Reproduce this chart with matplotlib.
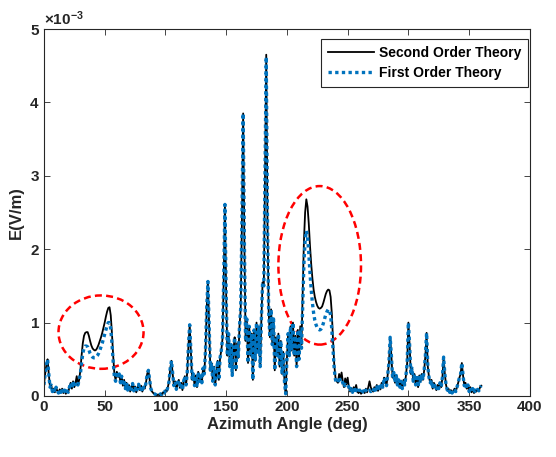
import matplotlib
matplotlib.use('Agg')
import matplotlib.pyplot as plt
from matplotlib.patches import Ellipse
from matplotlib.ticker import ScalarFormatter, MultipleLocator
import numpy as np

plt.rcParams['font.family'] = ['Liberation Sans', 'DejaVu Sans']
plt.rcParams['font.weight'] = 'bold'
plt.rcParams['mathtext.fontset'] = 'custom'
plt.rcParams['mathtext.rm'] = 'Liberation Sans:bold'
plt.rcParams['mathtext.default'] = 'rm'

# azimuth angle (deg), one sample per degree
angle = list(range(0, 361))

# field strength, in units of 1e-3 V/m
second_order = [
    0.15, 0.30, 0.42, 0.50, 0.30, 0.12, 0.15, 0.06, 0.10, 0.05,
    0.12, 0.07, 0.04, 0.09, 0.05, 0.10, 0.04, 0.08, 0.03, 0.07,
    0.05, 0.12, 0.18, 0.10, 0.20, 0.12, 0.18, 0.27, 0.15, 0.22,
    0.35, 0.55, 0.72, 0.82, 0.86, 0.87, 0.87, 0.82, 0.75, 0.69,
    0.65, 0.63, 0.62, 0.63, 0.66, 0.70, 0.75, 0.80, 0.86, 0.93,
    1.00, 1.08, 1.15, 1.20, 1.21, 1.10, 0.85, 0.55, 0.30, 0.22,
    0.33, 0.26, 0.30, 0.18, 0.27, 0.14, 0.22, 0.10, 0.18, 0.08,
    0.15, 0.06, 0.12, 0.17, 0.07, 0.13, 0.05, 0.11, 0.16, 0.08,
    0.14, 0.06, 0.12, 0.10, 0.18, 0.30, 0.35, 0.22, 0.10, 0.06,
    0.04, 0.03, 0.02, 0.01, 0.02, 0.01, 0.03, 0.02, 0.05, 0.04,
    0.08, 0.06, 0.12, 0.20, 0.38, 0.48, 0.30, 0.14, 0.20, 0.09,
    0.16, 0.22, 0.11, 0.18, 0.08, 0.20, 0.27, 0.15, 0.33, 0.70,
    0.97, 0.60, 0.22, 0.30, 0.14, 0.28, 0.12, 0.33, 0.20, 0.27,
    0.18, 0.38, 0.30, 0.62, 1.20, 1.56, 0.95, 0.35, 0.45, 0.20,
    0.40, 0.15, 0.32, 0.48, 0.22, 0.52, 0.62, 0.78, 1.60, 2.61,
    1.40, 0.55, 0.85, 0.40, 0.70, 0.28, 0.62, 0.80, 0.35, 0.72,
    0.52, 0.95, 1.20, 2.40, 3.85, 2.10, 0.75, 1.05, 0.45, 0.95,
    0.55, 0.85, 0.22, 0.90, 0.48, 1.00, 0.60, 0.95, 0.40, 1.05,
    1.55, 1.50, 3.00, 4.65, 2.40, 1.15, 0.80, 1.18, 0.70, 1.05,
    0.35, 0.80, 0.55, 0.85, 0.40, 0.75, 0.30, 0.60, 0.20, 0.03,
    0.50, 0.85, 0.55, 0.95, 0.62, 1.00, 0.55, 0.82, 0.40, 0.90,
    0.50, 0.95, 0.70, 1.40, 2.10, 2.50, 2.68, 2.58, 2.35, 2.05,
    1.80, 1.60, 1.45, 1.35, 1.28, 1.23, 1.20, 1.19, 1.20, 1.22,
    1.27, 1.33, 1.39, 1.43, 1.45, 1.44, 1.35, 1.12, 0.75, 0.42,
    0.25, 0.20, 0.18, 0.30, 0.22, 0.32, 0.20, 0.12, 0.24, 0.16,
    0.25, 0.12, 0.06, 0.10, 0.05, 0.12, 0.08, 0.15, 0.06, 0.04,
    0.08, 0.03, 0.05, 0.07, 0.04, 0.10, 0.05, 0.12, 0.20, 0.12,
    0.08, 0.06, 0.12, 0.08, 0.15, 0.07, 0.12, 0.09, 0.18, 0.12,
    0.25, 0.20, 0.14, 0.30, 0.45, 0.80, 0.55, 0.25, 0.32, 0.18,
    0.28, 0.15, 0.22, 0.12, 0.20, 0.10, 0.22, 0.15, 0.28, 0.45,
    1.00, 0.70, 0.30, 0.38, 0.20, 0.30, 0.15, 0.25, 0.12, 0.28,
    0.20, 0.30, 0.22, 0.35, 0.55, 0.86, 0.40, 0.25, 0.18, 0.22,
    0.10, 0.18, 0.12, 0.08, 0.15, 0.10, 0.18, 0.12, 0.25, 0.53,
    0.30, 0.15, 0.08, 0.10, 0.05, 0.08, 0.04, 0.07, 0.10, 0.06,
    0.12, 0.18, 0.25, 0.30, 0.45, 0.28, 0.14, 0.18, 0.10, 0.15,
    0.06, 0.12, 0.05, 0.10, 0.04, 0.08, 0.06, 0.09, 0.07, 0.12,
    0.14,
]

first_order = [
    0.15, 0.30, 0.42, 0.50, 0.30, 0.12, 0.15, 0.06, 0.10, 0.05,
    0.12, 0.07, 0.04, 0.09, 0.05, 0.10, 0.04, 0.08, 0.03, 0.07,
    0.05, 0.12, 0.18, 0.10, 0.20, 0.12, 0.18, 0.18, 0.15, 0.22,
    0.30, 0.45, 0.58, 0.65, 0.68, 0.68, 0.67, 0.63, 0.58, 0.55,
    0.53, 0.52, 0.52, 0.53, 0.55, 0.58, 0.62, 0.67, 0.72, 0.78,
    0.84, 0.90, 0.96, 1.00, 1.00, 0.92, 0.72, 0.47, 0.26, 0.20,
    0.33, 0.26, 0.30, 0.18, 0.27, 0.14, 0.22, 0.10, 0.18, 0.08,
    0.15, 0.06, 0.12, 0.17, 0.07, 0.13, 0.05, 0.11, 0.16, 0.08,
    0.14, 0.06, 0.12, 0.10, 0.18, 0.30, 0.35, 0.22, 0.10, 0.06,
    0.04, 0.03, 0.02, 0.01, 0.02, 0.01, 0.03, 0.02, 0.05, 0.04,
    0.08, 0.06, 0.12, 0.20, 0.38, 0.48, 0.30, 0.14, 0.20, 0.09,
    0.16, 0.22, 0.11, 0.18, 0.08, 0.20, 0.27, 0.15, 0.33, 0.70,
    0.97, 0.60, 0.22, 0.30, 0.14, 0.28, 0.12, 0.33, 0.20, 0.27,
    0.18, 0.38, 0.30, 0.62, 1.20, 1.56, 0.95, 0.35, 0.45, 0.20,
    0.40, 0.15, 0.32, 0.48, 0.22, 0.52, 0.62, 0.78, 1.60, 2.61,
    1.40, 0.55, 0.85, 0.40, 0.70, 0.28, 0.62, 0.80, 0.35, 0.72,
    0.52, 0.95, 1.20, 2.40, 3.85, 2.10, 0.75, 1.05, 0.45, 0.95,
    0.55, 0.85, 0.22, 0.90, 0.48, 1.00, 0.60, 0.95, 0.40, 1.05,
    1.55, 1.50, 3.00, 4.62, 2.40, 1.15, 0.80, 1.18, 0.70, 1.05,
    0.35, 0.80, 0.55, 0.85, 0.40, 0.75, 0.30, 0.60, 0.20, 0.03,
    0.50, 0.85, 0.55, 0.95, 0.62, 1.00, 0.55, 0.82, 0.40, 0.90,
    0.50, 0.90, 0.65, 1.25, 1.80, 2.12, 2.25, 2.17, 1.95, 1.68,
    1.45, 1.27, 1.13, 1.03, 0.97, 0.93, 0.91, 0.90, 0.91, 0.94,
    0.99, 1.05, 1.11, 1.15, 1.18, 1.17, 1.10, 0.90, 0.62, 0.36,
    0.22, 0.18, 0.18, 0.26, 0.20, 0.22, 0.18, 0.12, 0.16, 0.14,
    0.15, 0.12, 0.06, 0.10, 0.05, 0.12, 0.08, 0.12, 0.06, 0.04,
    0.08, 0.03, 0.05, 0.07, 0.04, 0.08, 0.05, 0.07, 0.08, 0.06,
    0.08, 0.06, 0.12, 0.08, 0.15, 0.07, 0.12, 0.09, 0.18, 0.12,
    0.25, 0.20, 0.14, 0.30, 0.45, 0.80, 0.55, 0.25, 0.32, 0.18,
    0.28, 0.15, 0.22, 0.12, 0.20, 0.10, 0.22, 0.15, 0.28, 0.45,
    1.00, 0.70, 0.30, 0.38, 0.20, 0.30, 0.15, 0.25, 0.12, 0.28,
    0.20, 0.30, 0.22, 0.35, 0.55, 0.86, 0.40, 0.25, 0.18, 0.22,
    0.10, 0.18, 0.12, 0.08, 0.15, 0.10, 0.18, 0.12, 0.25, 0.53,
    0.30, 0.15, 0.08, 0.10, 0.05, 0.08, 0.04, 0.07, 0.10, 0.06,
    0.12, 0.18, 0.25, 0.30, 0.45, 0.28, 0.14, 0.18, 0.10, 0.15,
    0.06, 0.12, 0.05, 0.10, 0.04, 0.08, 0.06, 0.09, 0.07, 0.12,
    0.14,
]

series_labels = ['Second Order Theory', 'First Order Theory']

ang = np.array(angle)
e2 = np.array(second_order) * 1e-3
e1 = np.array(first_order) * 1e-3

fig = plt.figure(figsize=(5.56, 4.57), dpi=100)
ax = fig.add_axes([0.079, 0.1335, 0.874, 0.803])

ax.plot(ang, e2, color='black', lw=1.3, label=series_labels[0])
ax.plot(ang, e1, color='#0072BD', lw=2.4, linestyle=(0, (1, 1)), label=series_labels[1])

# circled regions
for c, w, h in [((47, 0.87e-3), 70, 1.0e-3), ((227, 1.78e-3), 68, 2.16e-3)]:
    ax.add_patch(Ellipse(c, w, h, fill=False, edgecolor='red', lw=1.8,
                         linestyle=(0, (2.8, 1.7))))

ax.set_xlim(0, 400)
ax.set_ylim(0, 5e-3)
ax.xaxis.set_major_locator(MultipleLocator(50))
ax.yaxis.set_major_locator(MultipleLocator(1e-3))

fmt = ScalarFormatter(useMathText=True)
fmt.set_powerlimits((0, 0))
ax.yaxis.set_major_formatter(fmt)
ax.yaxis.get_offset_text().set_fontsize(11)

ax.tick_params(direction='in', top=True, right=True, length=4, width=0.6,
               labelsize=11, colors='#262626', pad=3)
for lab in ax.get_xticklabels() + ax.get_yticklabels():
    lab.set_fontweight('bold')
for s in ax.spines.values():
    s.set_color('#262626')
    s.set_linewidth(0.8)

ax.set_xlabel('Azimuth Angle (deg)', fontsize=12, fontweight='bold', color='#262626', labelpad=2)
ax.set_ylabel('E(V/m)', fontsize=12, fontweight='bold', color='#262626', labelpad=4)

leg = ax.legend(loc='upper right', bbox_to_anchor=(0.997, 0.972), borderaxespad=0,
                fancybox=False, framealpha=1, edgecolor='#262626',
                prop={'size': 10, 'weight': 'bold'}, handlelength=3.3,
                handletextpad=0.4, borderpad=0.5, labelspacing=0.4)
leg.get_frame().set_linewidth(0.8)

fig.savefig('out.png', dpi=100)
